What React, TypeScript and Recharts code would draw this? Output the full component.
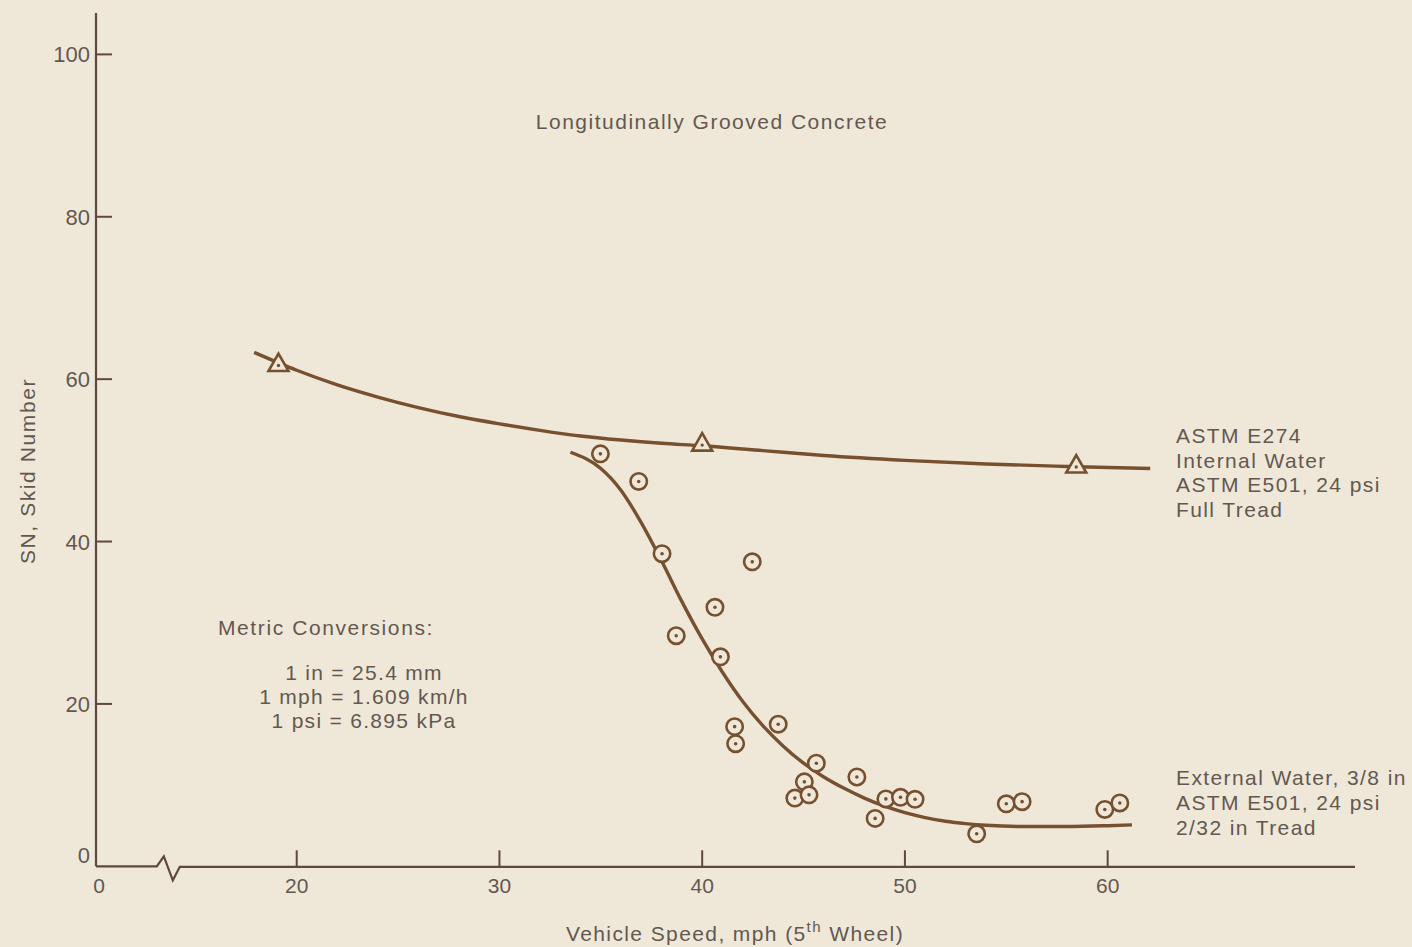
import React from 'react';
import { ComposedChart, Line, Scatter, XAxis, YAxis, ReferenceLine } from 'recharts';

const xTicks = [10.1, 20, 30, 40, 50, 60];
const xTickLabels = ['0', '20', '30', '40', '50', '60'];
const yTicks = [0, 20, 40, 60, 80, 100];

const internalWaterPoints = [
  { x: 19.1, y: 61.8 },
  { x: 40.0, y: 52.0 },
  { x: 58.45, y: 49.3 },
];

const internalWaterCurve = [
  { x: 17.9, y: 63.3 },
  { x: 20.0, y: 61.1 },
  { x: 22.0, y: 59.3 },
  { x: 24.0, y: 57.8 },
  { x: 26.0, y: 56.5 },
  { x: 28.0, y: 55.4 },
  { x: 30.0, y: 54.5 },
  { x: 32.0, y: 53.7 },
  { x: 34.0, y: 53.0 },
  { x: 36.0, y: 52.5 },
  { x: 38.0, y: 52.1 },
  { x: 40.0, y: 51.8 },
  { x: 43.0, y: 51.2 },
  { x: 46.0, y: 50.6 },
  { x: 50.0, y: 50.0 },
  { x: 54.0, y: 49.55 },
  { x: 58.0, y: 49.25 },
  { x: 62.1, y: 49.0 },
];

const externalWaterPoints = [
  { x: 34.98, y: 50.8 },
  { x: 36.87, y: 47.4 },
  { x: 38.02, y: 38.5 },
  { x: 38.72, y: 28.4 },
  { x: 40.63, y: 31.9 },
  { x: 40.9, y: 25.8 },
  { x: 42.47, y: 37.5 },
  { x: 41.6, y: 17.2 },
  { x: 41.65, y: 15.1 },
  { x: 43.75, y: 17.5 },
  { x: 45.63, y: 12.7 },
  { x: 45.04, y: 10.4 },
  { x: 44.57, y: 8.4 },
  { x: 45.27, y: 8.8 },
  { x: 47.63, y: 11.0 },
  { x: 48.53, y: 5.9 },
  { x: 49.06, y: 8.3 },
  { x: 49.78, y: 8.5 },
  { x: 50.5, y: 8.25 },
  { x: 53.54, y: 4.0 },
  { x: 55.0, y: 7.7 },
  { x: 55.78, y: 7.96 },
  { x: 59.86, y: 7.0 },
  { x: 60.6, y: 7.8 },
];

const externalWaterCurve = [
  { x: 33.5, y: 51.0 },
  { x: 35.0, y: 49.0 },
  { x: 36.0, y: 46.3 },
  { x: 37.0, y: 42.3 },
  { x: 38.0, y: 37.6 },
  { x: 39.0, y: 32.6 },
  { x: 40.0, y: 28.0 },
  { x: 41.0, y: 23.9 },
  { x: 42.0, y: 20.3 },
  { x: 43.0, y: 17.3 },
  { x: 44.0, y: 14.8 },
  { x: 45.0, y: 12.7 },
  { x: 46.0, y: 11.0 },
  { x: 47.0, y: 9.6 },
  { x: 48.0, y: 8.4 },
  { x: 49.0, y: 7.4 },
  { x: 50.0, y: 6.6 },
  { x: 51.0, y: 6.0 },
  { x: 52.0, y: 5.55 },
  { x: 53.0, y: 5.25 },
  { x: 54.0, y: 5.05 },
  { x: 56.0, y: 4.9 },
  { x: 58.0, y: 4.9 },
  { x: 60.0, y: 5.0 },
  { x: 61.2, y: 5.1 },
];

const titleText = 'Longitudinally Grooved Concrete';
const internalLabel = ['ASTM E274', 'Internal Water', 'ASTM E501, 24 psi', 'Full Tread'];
const externalLabel = ['External Water, 3/8 in', 'ASTM E501, 24 psi', '2/32 in Tread'];
const metricTitle = 'Metric Conversions:';
const metricLines = ['1 in = 25.4 mm', '1 mph = 1.609 km/h', '1 psi = 6.895 kPa'];

const BG = '#efe8d9';
const INK = '#76502f';
const AXIS = '#5e4a3a';
const TEXT = '#635850';
const FONT = '"Liberation Sans", Arial, sans-serif';

const XTick = (props: any) => {
  const { x, y, payload, index } = props;
  const label = xTickLabels[index] ?? String(payload.value);
  const isZero = index === 0;
  return (
    <g>
      {!isZero && <line x1={x} y1={y} x2={x} y2={y - 16} stroke={AXIS} strokeWidth={2} />}
      <text x={isZero ? x + 3 : x} y={y + 27} textAnchor="middle" fontSize={21} fill={TEXT} fontFamily={FONT}>
        {label}
      </text>
    </g>
  );
};

const YTick = (props: any) => {
  const { x, y, payload } = props;
  const isZero = payload.value === 0;
  return (
    <g>
      {!isZero && <line x1={x} y1={y} x2={x + 16} y2={y} stroke={AXIS} strokeWidth={2} />}
      <text x={x - 6} y={isZero ? y - 3 : y + 8} textAnchor="end" fontSize={22} fill={TEXT} fontFamily={FONT}>
        {payload.value}
      </text>
    </g>
  );
};

const CircleDot = (props: any) => {
  const { cx, cy } = props;
  if (cx == null || cy == null) return null;
  return (
    <g>
      <circle cx={cx} cy={cy} r={8.2} fill={BG} stroke={INK} strokeWidth={2.6} />
      <circle cx={cx} cy={cy} r={1.8} fill={INK} />
    </g>
  );
};

const TriangleDot = (props: any) => {
  const { cx, cy } = props;
  if (cx == null || cy == null) return null;
  const d = `M ${cx} ${cy - 11} L ${cx + 10} ${cy + 6.5} L ${cx - 10} ${cy + 6.5} Z`;
  return (
    <g>
      <path d={d} fill={BG} stroke={INK} strokeWidth={2.6} strokeLinejoin="miter" />
      <circle cx={cx} cy={cy + 1} r={1.7} fill={INK} />
    </g>
  );
};

const BREAK_AT = 13.1;
const X_MIN = 10.1;
const X_MAX = 72.2;

const BrokenAxis = (props: any) => {
  const { x1, y1, x2 } = props;
  if (x1 == null || x2 == null) return null;
  const y = y1;
  const bx = x1 + ((x2 - x1) * (BREAK_AT - X_MIN)) / (X_MAX - X_MIN);
  const d = `M ${x1} ${y} L ${bx} ${y} L ${bx + 7} ${y - 10} L ${bx + 16} ${y + 14} L ${bx + 23} ${y + 0.5} L ${x2} ${y + 0.5}`;
  return <path d={d} fill="none" stroke={AXIS} strokeWidth={2.2} strokeLinejoin="miter" />;
};

export default function App() {
  return (
    <div style={{ position: 'absolute', left: 0, top: 0, width: 1412, height: 947, background: BG, overflow: 'hidden' }}>
      <ComposedChart
        width={1412}
        height={947}
        margin={{ top: 13, right: 57, bottom: 40.7, left: 36 }}
      >
        <XAxis
          type="number"
          dataKey="x"
          domain={[X_MIN, X_MAX]}
          ticks={xTicks}
          interval={0}
          allowDataOverflow
          axisLine={false}
          tickLine={false}
          tickSize={0}
          tickMargin={0}
          height={40}
          tick={<XTick />}
        />
        <YAxis
          type="number"
          dataKey="y"
          domain={[0, 105.1]}
          ticks={yTicks}
          interval={0}
          allowDataOverflow
          axisLine={{ stroke: AXIS, strokeWidth: 2.2 }}
          tickLine={false}
          tickSize={0}
          tickMargin={0}
          width={60}
          tick={<YTick />}
        />
        <ReferenceLine
          segment={[{ x: X_MIN, y: 0 }, { x: X_MAX, y: 0 }]}
          ifOverflow="visible"
          shape={(p: any) => <BrokenAxis {...p} />}
        />
        <Line
          data={internalWaterCurve}
          dataKey="y"
          type="monotone"
          stroke={INK}
          strokeWidth={3.4}
          dot={false}
          activeDot={false}
          isAnimationActive={false}
        />
        <Line
          data={externalWaterCurve}
          dataKey="y"
          type="monotone"
          stroke={INK}
          strokeWidth={3.4}
          dot={false}
          activeDot={false}
          isAnimationActive={false}
        />
        <Scatter data={internalWaterPoints} dataKey="y" shape={(p: any) => <TriangleDot {...p} />} isAnimationActive={false} />
        <Scatter data={externalWaterPoints} dataKey="y" shape={(p: any) => <CircleDot {...p} />} isAnimationActive={false} />
      </ComposedChart>
      <svg
        width={1412}
        height={947}
        style={{ position: 'absolute', left: 0, top: 0, pointerEvents: 'none' }}
        fontFamily={FONT}
        fill={TEXT}
      >
        <text x={712} y={129} textAnchor="middle" fontSize={21} letterSpacing={1.5}>
          {titleText}
        </text>
        {internalLabel.map((t, i) => (
          <text key={'i' + i} x={1176} y={443 + i * 24.7} fontSize={21} letterSpacing={1.4}>
            {t}
          </text>
        ))}
        {externalLabel.map((t, i) => (
          <text key={'e' + i} x={1176} y={785 + i * 25} fontSize={21} letterSpacing={1.4}>
            {t}
          </text>
        ))}
        <text x={218} y={635} fontSize={21} letterSpacing={1.6}>
          {metricTitle}
        </text>
        {metricLines.map((t, i) => (
          <text key={'m' + i} x={364} y={680 + i * 24} textAnchor="middle" fontSize={21} letterSpacing={1.3}>
            {t}
          </text>
        ))}
        <text x={735} y={941} textAnchor="middle" fontSize={21} letterSpacing={1.4}>
          Vehicle Speed, mph (5
          <tspan fontSize={15} dy={-9}>th</tspan>
          <tspan dy={9}> Wheel)</tspan>
        </text>
        <text
          x={35}
          y={471}
          textAnchor="middle"
          fontSize={21}
          letterSpacing={1.6}
          transform="rotate(-90 35 471)"
        >
          SN, Skid Number
        </text>
      </svg>
    </div>
  );
}
